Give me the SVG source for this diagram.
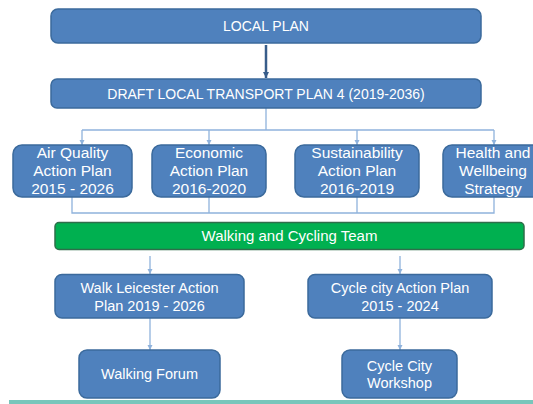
<svg xmlns="http://www.w3.org/2000/svg" width="533" height="404" viewBox="0 0 533 404">
<defs>
<style>
.box{fill:#4f81bd;stroke:#3b6a9c;stroke-width:1.5}
.green{fill:#00b050;stroke:#2e6e4a;stroke-width:1.5}
.t{font-family:"Liberation Sans",Arial,sans-serif;fill:#ffffff;text-anchor:middle}
.c{fill:none;stroke:#8fb2dc;stroke-width:1.3}
</style>
<marker id="ah" markerWidth="6" markerHeight="6" refX="5" refY="3" orient="auto" markerUnits="userSpaceOnUse">
<path d="M0,0.5 L5,3 L0,5.5 z" fill="#8fb2dc"/>
</marker>
<marker id="ahd" markerWidth="8" markerHeight="8" refX="6" refY="4" orient="auto" markerUnits="userSpaceOnUse">
<path d="M0,1 L6,4 L0,7 z" fill="#385d8a"/>
</marker>
</defs>
<rect x="0" y="0" width="533" height="404" fill="#ffffff"/>
<g id="connectors">
<line x1="266" y1="45" x2="266" y2="78" stroke="#385d8a" stroke-width="2.5" marker-end="url(#ahd)"/>
<polyline class="c" points="266,108 266,130"/>
<polyline class="c" points="82,130 494,130"/>
<line class="c" x1="82" y1="130" x2="82" y2="145" marker-end="url(#ah)"/>
<line class="c" x1="209" y1="130" x2="209" y2="145" marker-end="url(#ah)"/>
<line class="c" x1="357" y1="130" x2="357" y2="145" marker-end="url(#ah)"/>
<line class="c" x1="494" y1="130" x2="494" y2="145" marker-end="url(#ah)"/>
<polyline class="c" points="72,197 72,213 494,213 494,197"/>
<line class="c" x1="209" y1="197" x2="209" y2="213"/>
<line class="c" x1="357" y1="197" x2="357" y2="213"/>
<line class="c" x1="150" y1="256" x2="150" y2="274" marker-end="url(#ah)"/>
<line class="c" x1="400" y1="256" x2="400" y2="274" marker-end="url(#ah)"/>
<line class="c" x1="150" y1="318" x2="150" y2="350" marker-end="url(#ah)"/>
<line class="c" x1="400" y1="318" x2="400" y2="350" marker-end="url(#ah)"/>
</g>
<g id="local-plan">
<rect class="box" x="51" y="9" width="430" height="34" rx="7"/>
<text class="t" x="266" y="31" font-size="14">LOCAL PLAN</text>
</g>
<g id="draft-ltp4">
<rect class="box" x="51" y="79" width="430" height="29" rx="6"/>
<text class="t" x="266" y="98.5" font-size="14">DRAFT LOCAL TRANSPORT PLAN 4 (2019-2036)</text>
</g>
<g id="air-quality">
<rect class="box" x="13" y="145" width="119" height="52" rx="9"/>
<text class="t" x="72.5" y="157.5" font-size="15.5">Air Quality</text>
<text class="t" x="72.5" y="175.5" font-size="15.5">Action Plan</text>
<text class="t" x="72.5" y="194" font-size="15.5">2015 - 2026</text>
</g>
<g id="economic">
<rect class="box" x="152" y="145" width="114" height="52" rx="9"/>
<text class="t" x="209" y="157.5" font-size="15.5">Economic</text>
<text class="t" x="209" y="175.5" font-size="15.5">Action Plan</text>
<text class="t" x="209" y="194" font-size="15.5">2016-2020</text>
</g>
<g id="sustainability">
<rect class="box" x="295" y="145" width="124" height="52" rx="9"/>
<text class="t" x="357" y="157.5" font-size="15.5">Sustainability</text>
<text class="t" x="357" y="175.5" font-size="15.5">Action Plan</text>
<text class="t" x="357" y="194" font-size="15.5">2016-2019</text>
</g>
<g id="health">
<rect class="box" x="443" y="145" width="102" height="52" rx="9"/>
<text class="t" x="493" y="157.5" font-size="15.5">Health and</text>
<text class="t" x="493" y="175.5" font-size="15.5">Wellbeing</text>
<text class="t" x="493" y="194" font-size="15.5">Strategy</text>
</g>
<g id="walking-cycling-team">
<rect class="green" x="55" y="222.5" width="469" height="27" rx="4"/>
<text class="t" x="289.5" y="241" font-size="15">Walking and Cycling Team</text>
</g>
<g id="walk-leicester">
<rect class="box" x="55" y="274.5" width="189" height="43.5" rx="7"/>
<text class="t" x="149.5" y="292.5" font-size="14.5">Walk Leicester Action</text>
<text class="t" x="149.5" y="310.5" font-size="14.5">Plan 2019 - 2026</text>
</g>
<g id="cycle-city-plan">
<rect class="box" x="308" y="274.5" width="184" height="43.5" rx="7"/>
<text class="t" x="400" y="292.5" font-size="14.5">Cycle city Action Plan</text>
<text class="t" x="400" y="310.5" font-size="14.5">2015 - 2024</text>
</g>
<g id="walking-forum">
<rect class="box" x="79" y="350" width="141" height="48" rx="8"/>
<text class="t" x="149.5" y="379" font-size="14.5">Walking Forum</text>
</g>
<g id="cycle-city-workshop">
<rect class="box" x="342" y="350" width="115" height="48" rx="8"/>
<text class="t" x="399.5" y="370.5" font-size="14.5">Cycle City</text>
<text class="t" x="399.5" y="388" font-size="14.5">Workshop</text>
</g>
<rect x="9" y="400" width="524" height="4" fill="#78c6bb"/>
</svg>
